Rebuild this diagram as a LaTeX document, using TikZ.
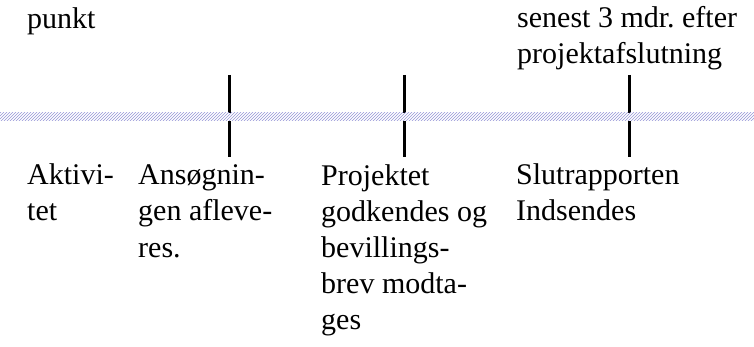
\documentclass[tikz,border=0pt]{standalone}
\usepackage{fontspec}
\setmainfont{Liberation Serif}
\usetikzlibrary{patterns}
\definecolor{hatchblue}{RGB}{150,150,215}

\begin{document}
\begin{tikzpicture}[x=1pt,y=-1pt,
    milestone text/.style={anchor=base west,inner sep=0pt,align=left,
      font=\fontsize{30}{36}\selectfont\frenchspacing},
    tick line/.style={line width=3pt}]
\useasboundingbox (0,0) rectangle (754,347);

% ticks on the time line
\coordinate (tick1 top) at (229,75);
\coordinate (tick1 bottom) at (229,157);
\coordinate (tick2 top) at (404,75);
\coordinate (tick2 bottom) at (404,157);
\coordinate (tick3 top) at (629,75);
\coordinate (tick3 bottom) at (629,157);
\draw[tick line] (tick1 top) -- (tick1 bottom);
\draw[tick line] (tick2 top) -- (tick2 bottom);
\draw[tick line] (tick3 top) -- (tick3 bottom);

% the hatched time line
\fill[white] (0,113) rectangle (754,121);
\fill[pattern=north east lines,pattern color=hatchblue] (0,113) rectangle (754,121);

% texts above (base = last line)
\node[milestone text] (punkt node) at (27,29) {punkt};
\node[milestone text] (senest node) at (517,64) {senest 3 mdr. efter\\projektafslutning};

% texts below (base = last line, first line at 185)
\node[milestone text] (aktivitet node) at (27,221) {Aktivi-\\tet};
\node[milestone text] (ansoeg node) at (138,257) {Ansøgnin-\\gen afleve-\\res.};
\node[milestone text] (projekt node) at (321,329) {Projektet\\godkendes og\\bevillings-\\brev modta-\\ges};
\node[milestone text] (slut node) at (516,221) {Slutrapporten\\Indsendes};
\end{tikzpicture}
\end{document}
